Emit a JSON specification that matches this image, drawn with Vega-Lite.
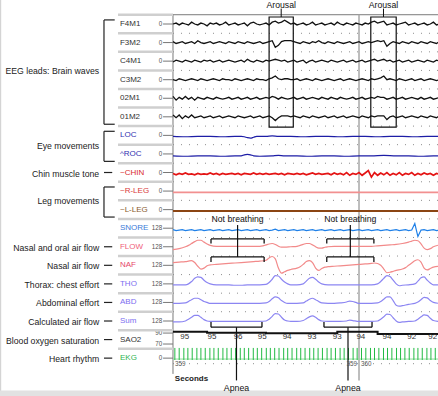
{
"$schema":"https://vega.github.io/schema/vega-lite/v6.json",
"width":438,"height":396,"padding":0,"autosize":{"type":"none"},"background":"white",
"config":{"font":"Liberation Sans","view":{"stroke":null}},
"datasets":{
"channels":[
{"k":"F4","n":"F4M1","lane":0,"g":"eeg","grp":"EEG leads: Brain waves","s":"0"},
{"k":"F3","n":"F3M2","lane":1,"g":"eeg","grp":"EEG leads: Brain waves","s":"0"},
{"k":"C4","n":"C4M1","lane":2,"g":"eeg","grp":"EEG leads: Brain waves","s":"0"},
{"k":"C3","n":"C3M2","lane":3,"g":"eeg","grp":"EEG leads: Brain waves","s":"0"},
{"k":"O2","n":"02M1","lane":4,"g":"eeg","grp":"EEG leads: Brain waves","s":"0"},
{"k":"O1","n":"01M2","lane":5,"g":"eeg","grp":"EEG leads: Brain waves","s":"0"},
{"k":"LO","n":"LOC","lane":6,"g":"eog","grp":"Eye movements","s":"0"},
{"k":"RO","n":"^ROC","lane":7,"g":"eog","grp":"Eye movements","s":"0"},
{"k":"CH","n":"~CHIN","lane":8,"g":"emg","grp":"Chin muscle tone","s":"0"},
{"k":"RL","n":"~R-LEG","lane":9,"g":"leg","grp":"Leg movements","s":"0"},
{"k":"LL","n":"~L-LEG","lane":10,"g":"leg","grp":"Leg movements","s":"0"},
{"k":"SN","n":"SNORE","lane":11,"g":"snore","grp":null,"s":"128"},
{"k":"FL","n":"FLOW","lane":12,"g":"resp","grp":"Nasal and oral air flow","s":"128"},
{"k":"NA","n":"NAF","lane":13,"g":"resp","grp":"Nasal air flow","s":"128"},
{"k":"TH","n":"THO","lane":14,"g":"resp","grp":"Thorax: chest effort","s":"128"},
{"k":"AB","n":"ABD","lane":15,"g":"resp","grp":"Abdominal effort","s":"128"},
{"k":"SU","n":"Sum","lane":16,"g":"resp","grp":"Calculated air flow","s":"128"},
{"k":"SA","n":"SAO2","lane":17,"g":"sao2","grp":"Blood oxygen saturation","s":null},
{"k":"EK","n":"EKG","lane":18,"g":"ekg","grp":"Heart rhythm","s":"0"}
],
"sig":[
{"t":0,"F4":0,"F3":1,"C4":-1,"C3":0,"O2":2,"O1":2,"CH":-1,"SN":-1.5,"LO":-1,"RO":-2,"RL":-1.5,"LL":-1.5,"FL":-3,"NA":3,"TH":-1,"AB":-1,"SU":-1,"SA":8.4},
{"t":0.5,"F4":1,"F3":-1,"C4":1,"C3":-1,"O2":-2,"O1":-1,"CH":-2.5,"SN":-2.5},
{"t":1,"F4":-1,"F3":0,"C4":0,"C3":1,"O2":1,"O1":2,"CH":-1,"SN":-2,"FL":-2,"NA":3.5,"TH":-1,"AB":-1,"SU":-1},
{"t":1.5,"F4":1,"F3":1,"C4":-1,"C3":0,"O2":-1,"O1":-2,"CH":-2,"SN":-1.5},
{"t":2,"F4":0,"F3":-1,"C4":1,"C3":-1,"O2":2,"O1":1,"CH":-0.5,"SN":-2.5,"LO":-1.5,"RO":-2.5,"FL":0,"NA":4,"TH":-1,"AB":-0.5,"SU":0},
{"t":2.5,"F4":-1,"F3":0,"C4":0,"C3":0,"O2":-1,"O1":-1,"CH":-2,"SN":-2,"FL":1.5,"NA":4.5,"TH":0,"AB":1,"SU":2},
{"t":3,"F4":2,"F3":1,"C4":-1,"C3":1,"O2":1,"O1":2,"CH":-1.5,"SN":-1.5,"FL":3.5,"NA":5,"TH":2.5,"AB":3,"SU":4},
{"t":3.5,"F4":0,"F3":-1,"C4":1,"C3":0,"O2":-2,"O1":-1,"CH":-2.5,"SN":-2.5,"FL":5.5,"NA":3,"TH":6,"AB":4.5,"SU":6},
{"t":4,"F4":-1,"F3":2,"C4":0,"C3":-1,"O2":1,"O1":0,"CH":-1,"SN":-2,"LO":-1,"RO":-2,"FL":7,"NA":-1,"TH":7.5,"AB":4.5,"SU":6},
{"t":4.5,"F4":1,"F3":0,"C4":-1,"C3":1,"O2":0,"O1":1,"CH":-2,"SN":-1.5,"FL":7,"NA":-4,"TH":7,"AB":3,"SU":4},
{"t":5,"F4":0,"F3":-1,"C4":1,"C3":0,"O2":-1,"O1":-1,"CH":-1.5,"SN":-2.5,"FL":5,"NA":-3,"TH":4,"AB":1,"SU":1.5},
{"t":5.5,"F4":-2,"F3":0,"C4":0,"C3":-1,"O2":1,"O1":0,"CH":-2,"SN":-2,"FL":3,"NA":-0.5,"TH":1.5,"AB":0,"SU":0,"SA":7.3},
{"t":6,"F4":1,"F3":1,"C4":1,"C3":0,"O2":0,"O1":1,"CH":-0.5,"SN":-1.5,"LO":-1,"RO":-2,"FL":1.5,"NA":0.5,"TH":0,"AB":-1,"SU":-0.5},
{"t":6.5,"F4":0,"F3":-1,"C4":-1,"C3":1,"O2":-1,"O1":-1,"CH":-2,"SN":-2.5},
{"t":7,"F4":1,"F3":0,"C4":0,"C3":0,"O2":1,"O1":0,"CH":-1,"SN":-2,"FL":0.5,"NA":1,"TH":-1,"AB":-1,"SU":-0.5},
{"t":7.5,"F4":-1,"F3":1,"C4":1,"C3":-1,"O2":0,"O1":1,"CH":-2.5,"SN":-1.5},
{"t":8,"F4":0,"F3":0,"C4":-1,"C3":1,"O2":-1,"O1":-1,"CH":-1,"SN":-2.5,"LO":-1.5,"RO":-2.5,"FL":0.5,"NA":1.5,"TH":-1,"AB":-1,"SU":-0.5},
{"t":8.5,"F4":2,"F3":-1,"C4":0,"C3":0,"O2":0,"O1":0,"CH":-2,"SN":-2},
{"t":9,"F4":-1,"F3":1,"C4":1,"C3":0,"O2":1,"O1":1,"CH":-1.5,"SN":-1.5,"FL":0.5,"NA":2,"TH":-1,"AB":-1,"SU":-0.5},
{"t":9.5,"F4":0,"F3":0,"C4":0,"C3":-1,"O2":-1,"O1":0,"CH":-1,"SN":-2.5},
{"t":10,"F4":1,"F3":-1,"C4":-1,"C3":1,"O2":0,"O1":-1,"CH":-2,"SN":-2,"LO":-1,"RO":-2,"FL":0.5,"NA":2.5,"TH":-1.5,"AB":-1,"SU":-0.5},
{"t":10.5,"F4":-1,"F3":1,"C4":0,"C3":0,"O2":1,"O1":1,"CH":-1,"SN":-1.5},
{"t":11,"F4":0,"F3":0,"C4":1,"C3":-1,"O2":-1,"O1":0,"CH":-2.5,"SN":-2.5,"LO":-1,"RO":-2,"FL":0.5,"NA":3,"TH":-1.5,"AB":-1,"SU":-0.5},
{"t":11.5,"F4":1,"F3":-1,"C4":-1,"C3":0,"O2":0,"O1":-1,"CH":-1,"SN":-2,"LO":-1.5,"RO":-1},
{"t":12,"F4":-2,"F3":1,"C4":2,"C3":1,"O2":1,"O1":0,"CH":-1.5,"SN":-1.5,"LO":-2.5,"RO":-0.5,"FL":0.5,"NA":3.5,"TH":-1,"AB":-1,"SU":-0.5},
{"t":12.5,"F4":1,"F3":0,"C4":0,"C3":0,"O2":-1,"O1":1,"CH":-2,"SN":-2.5,"LO":-3,"RO":-1},
{"t":13,"F4":2,"F3":-1,"C4":-1,"C3":-1,"O2":0,"O1":-1,"CH":-0.5,"SN":-2,"LO":-2,"RO":-2,"FL":0.5,"NA":4,"TH":-1,"AB":-1,"SU":-0.5},
{"t":13.5,"F4":0,"F3":0,"C4":1,"C3":1,"O2":1,"O1":0,"CH":-2,"SN":-1.5,"LO":-1},
{"t":14,"F4":-1,"F3":1,"C4":0,"C3":0,"O2":-1,"O1":1,"CH":-1,"SN":-2.5,"RO":-2.5,"FL":0.5,"NA":4.5,"TH":-1,"AB":-1,"SU":-0.5},
{"t":14.5,"F4":0,"F3":-1,"C4":-1,"C3":0,"O2":0,"O1":-1,"CH":-2,"SN":-2,"FL":1},
{"t":15,"F4":1,"F3":0,"C4":1,"C3":-1,"O2":1,"O1":0,"CH":-1,"SN":-1.5,"LO":-1,"FL":2,"NA":5.5,"TH":-0.5,"AB":-0.5,"SU":0,"SA":6.7},
{"t":15.5,"F4":-1,"F3":1,"C4":0,"C3":1,"O2":0,"O1":1,"CH":-2,"SN":-2.5,"FL":3,"NA":8,"TH":1.5,"AB":1,"SU":2},
{"t":16,"F4":2,"F3":2,"C4":1,"C3":2,"O2":2,"O1":-1,"CH":-1.5,"SN":-2,"LO":-0.5,"RO":-2,"FL":3.5,"NA":9.5,"TH":5,"AB":4,"SU":5},
{"t":16.5,"F4":3,"F3":-5,"C4":2,"C3":4,"O2":1,"O1":-4,"CH":-1,"SN":-1,"FL":2.5,"NA":7,"TH":9,"AB":6,"SU":8},
{"t":17,"F4":1,"F3":-3,"C4":1,"C3":1,"O2":-1,"O1":-1,"CH":-2,"SN":-2.5,"LO":-1,"RO":-1.5,"FL":0.5,"NA":-3,"TH":8.5,"AB":5,"SU":7.5},
{"t":17.5,"F4":2,"F3":1,"C4":0,"C3":0,"O2":1,"O1":1,"CH":-1,"SN":-2,"FL":-0.5,"NA":-8.5,"TH":5,"AB":2,"SU":4},
{"t":18,"F4":4,"F3":2,"C4":1,"C3":1,"O2":0,"O1":1,"CH":-2.5,"SN":-1.5,"RO":-2,"FL":-0.5,"NA":-7,"TH":2,"AB":0,"SU":1},
{"t":18.5,"F4":2,"F3":2,"C4":-1,"C3":1,"O2":-1,"O1":1,"CH":-1,"SN":-2.5,"NA":-5.5,"TH":0,"AB":-1,"SU":0},
{"t":19,"F4":0,"F3":2,"C4":0,"C3":0,"O2":0,"O1":0,"CH":-1.5,"SN":-2,"LO":-1,"FL":0,"NA":-4.5,"TH":-1,"AB":-1,"SU":-0.5},
{"t":19.5,"F4":1,"F3":1,"C4":1,"C3":0,"O2":1,"O1":1,"CH":-2,"SN":-1.5},
{"t":20,"F4":-1,"F3":0,"C4":-1,"C3":1,"O2":-1,"O1":0,"CH":-1,"SN":-2.5,"RO":-2,"FL":0.5,"NA":-3,"TH":-1,"AB":-1,"SU":-0.5},
{"t":20.5,"F4":0,"F3":-1,"C4":0,"C3":-1,"O2":0,"O1":-1,"CH":-2,"SN":-2,"FL":1.5,"NA":-1.5},
{"t":21,"F4":1,"F3":1,"C4":1,"C3":0,"O2":1,"O1":1,"CH":-1,"SN":-1.5,"LO":-1.5,"FL":2.5,"NA":1,"TH":0,"AB":-0.5,"SU":0.5},
{"t":21.5,"F4":-1,"F3":0,"C4":-2,"C3":1,"O2":-1,"O1":0,"CH":-2.5,"SN":-2.5,"FL":3.5,"NA":4,"TH":3,"AB":1.5,"SU":2.5},
{"t":22,"F4":0,"F3":-1,"C4":0,"C3":0,"O2":0,"O1":-1,"CH":-1.5,"SN":-2,"RO":-2.5,"FL":3.5,"NA":5,"TH":6,"AB":3.5,"SU":4.5},
{"t":22.5,"F4":2,"F3":1,"C4":1,"C3":-1,"O2":1,"O1":1,"CH":-0.5,"SN":-1.5,"FL":2,"NA":3,"TH":7,"AB":4.5,"SU":5.5},
{"t":23,"F4":-1,"F3":0,"C4":-1,"C3":1,"O2":0,"O1":0,"CH":-2,"SN":-2.5,"LO":-1,"FL":0,"NA":-3,"TH":5,"AB":3,"SU":4},
{"t":23.5,"F4":0,"F3":2,"C4":0,"C3":0,"O2":-1,"O1":-1,"CH":-1,"SN":-2,"FL":-1.5,"NA":-5.5,"TH":2,"AB":1,"SU":1.5},
{"t":24,"F4":1,"F3":0,"C4":1,"C3":-1,"O2":1,"O1":0,"CH":-2,"SN":-1.5,"RO":-2,"FL":-1.5,"NA":-3.5,"TH":0,"AB":-0.5,"SU":0},
{"t":24.5,"F4":-1,"F3":-1,"C4":0,"C3":0,"O2":0,"O1":1,"CH":-1.5,"SN":-2.5,"FL":-0.5,"NA":-2},
{"t":25,"F4":0,"F3":1,"C4":-1,"C3":1,"O2":-1,"O1":-1,"CH":-1,"SN":-2,"LO":-1,"FL":0,"NA":-1.5,"TH":-1,"AB":-1,"SU":-0.5},
{"t":25.5,"F4":1,"F3":0,"C4":1,"C3":0,"O2":1,"O1":0,"CH":-2.5,"SN":-1.5},
{"t":26,"F4":-1,"F3":-1,"C4":0,"C3":-1,"O2":0,"O1":1,"CH":-0.5,"SN":-2.5,"RO":-2,"FL":0.5,"NA":-1,"TH":-1,"AB":-1,"SU":-0.5},
{"t":26.5,"F4":2,"F3":1,"C4":-1,"C3":0,"O2":-1,"O1":-1,"CH":-2,"SN":-2,"SA":8.4},
{"t":27,"F4":0,"F3":0,"C4":0,"C3":1,"O2":1,"O1":0,"CH":-1,"SN":-1.5,"LO":-1.5,"FL":0.5,"NA":-0.5,"TH":-1,"AB":-0.5,"SU":-0.5},
{"t":27.5,"F4":-1,"F3":-1,"C4":1,"C3":-1,"O2":0,"O1":1,"CH":-2.5,"SN":-2.5},
{"t":28,"F4":1,"F3":0,"C4":-1,"C3":0,"O2":-1,"O1":-1,"CH":0,"SN":-2,"RO":-2.5,"FL":0.5,"NA":0,"TH":-1,"AB":0.5,"SU":0},
{"t":28.5,"F4":0,"F3":1,"C4":0,"C3":1,"O2":0,"O1":0,"CH":-3,"SN":-1.5,"AB":1.5,"SU":1},
{"t":29,"F4":-1,"F3":-1,"C4":1,"C3":0,"O2":1,"O1":1,"CH":-1,"SN":-2.5,"LO":-1,"FL":0.5,"NA":0.5,"TH":-1,"AB":1,"SU":0.5},
{"t":29.5,"F4":1,"F3":0,"C4":-1,"C3":-1,"O2":-1,"O1":0,"CH":-2,"SN":-2,"AB":0},
{"t":30,"F4":0,"F3":1,"C4":0,"C3":0,"O2":0,"O1":-1,"CH":0,"SN":-1.5,"RO":-2,"FL":0.5,"NA":1,"TH":-1,"AB":-1,"SU":-0.5},
{"t":30.5,"F4":-1,"F3":-1,"C4":1,"C3":1,"O2":1,"O1":1,"CH":-3,"SN":-2.5},
{"t":31,"F4":1,"F3":0,"C4":-1,"C3":0,"O2":-1,"O1":0,"CH":-0.5,"SN":-2,"LO":-1,"FL":0.5,"NA":1.5,"TH":-1,"AB":-1,"SU":-0.5},
{"t":31.5,"F4":0,"F3":1,"C4":0,"C3":-1,"O2":0,"O1":-1,"CH":2,"SN":-1.5},
{"t":32,"F4":2,"F3":0,"C4":1,"C3":1,"O2":1,"O1":1,"CH":-5,"SN":-2.5,"RO":-2,"FL":0.5,"NA":2,"TH":-1,"AB":-1,"SU":-0.5},
{"t":32.5,"F4":3,"F3":1,"C4":2,"C3":0,"O2":0,"O1":0,"CH":0,"SN":-2,"NA":2.5},
{"t":33,"F4":1,"F3":2,"C4":0,"C3":1,"O2":2,"O1":1,"CH":-3,"SN":-1.5,"LO":-1.5,"FL":1,"NA":2,"TH":0,"AB":-0.5,"SU":0,"SA":5.9},
{"t":33.5,"F4":2,"F3":1,"C4":1,"C3":2,"O2":1,"O1":1,"CH":-0.5,"SN":-2.5,"NA":0,"TH":2.5,"AB":1,"SU":2},
{"t":34,"F4":3,"F3":2,"C4":2,"C3":4,"O2":1,"O1":1,"CH":-2.5,"SN":-2,"RO":-1.5,"FL":1.5,"NA":-4,"TH":6,"AB":3.5,"SU":4.5},
{"t":34.5,"F4":-1,"F3":-4,"C4":0,"C3":0,"O2":-1,"O1":-3,"CH":0,"SN":-1.5,"NA":-8,"TH":9,"AB":6,"SU":7.5},
{"t":35,"F4":0,"F3":-1,"C4":1,"C3":1,"O2":0,"O1":0,"CH":-3,"SN":-2.5,"LO":-1,"FL":2,"NA":-7.5,"TH":8,"AB":6,"SU":7},
{"t":35.5,"F4":1,"F3":1,"C4":-1,"C3":0,"O2":1,"O1":1,"CH":-1,"SN":-2,"NA":-6.5,"TH":4,"AB":2,"SU":3.5},
{"t":36,"F4":-1,"F3":0,"C4":0,"C3":-1,"O2":-1,"O1":-1,"CH":-2.5,"SN":-1.5,"RO":-2,"FL":2.5,"NA":-5.5,"TH":0,"AB":-3,"SU":0},
{"t":36.5,"F4":0,"F3":-1,"C4":1,"C3":1,"O2":0,"O1":0,"CH":0,"SN":-2.5,"TH":-2,"AB":-4,"SU":-1.5},
{"t":37,"F4":1,"F3":1,"C4":-1,"C3":0,"O2":1,"O1":1,"CH":-3,"SN":-2,"LO":-1,"FL":3.5,"NA":-4,"TH":-1.5,"AB":-3.5,"SU":-1},
{"t":37.5,"F4":2,"F3":0,"C4":0,"C3":-1,"O2":-1,"O1":-1,"CH":-1,"SN":-1.5,"NA":-2.5},
{"t":38,"F4":-1,"F3":-1,"C4":1,"C3":0,"O2":0,"O1":0,"CH":-2,"SN":-2.5,"RO":-2,"FL":5,"NA":0,"TH":-1,"AB":-2,"SU":-0.5},
{"t":38.5,"F4":0,"F3":1,"C4":-1,"C3":1,"O2":1,"O1":1,"CH":0,"SN":-2,"FL":6,"NA":2.5},
{"t":39,"F4":1,"F3":0,"C4":0,"C3":-1,"O2":0,"O1":0,"CH":-3,"SN":5,"LO":-1.5,"FL":7,"NA":5,"TH":0,"AB":-1,"SU":0},
{"t":39.5,"F4":-1,"F3":-1,"C4":1,"C3":0,"O2":-1,"O1":-1,"CH":-1,"SN":-9,"FL":6.5,"NA":6,"TH":3,"AB":0.5,"SU":2},
{"t":40,"F4":0,"F3":1,"C4":0,"C3":1,"O2":1,"O1":1,"CH":-2.5,"SN":-2,"RO":-2.5,"FL":3,"NA":3.5,"TH":6.5,"AB":3,"SU":4.5},
{"t":40.5,"F4":1,"F3":0,"C4":-1,"C3":-1,"O2":-1,"O1":0,"CH":-0.5,"SN":-1.5,"FL":-1.5,"NA":-3,"TH":7.5,"AB":5.5,"SU":6.5},
{"t":41,"F4":-1,"F3":-1,"C4":1,"C3":0,"O2":0,"O1":-1,"CH":-2,"SN":-2.5,"LO":-1,"FL":-3,"NA":-5,"TH":4,"AB":5,"SU":6},
{"t":41.5,"F4":0,"F3":1,"C4":0,"C3":1,"O2":1,"O1":1,"CH":-1,"SN":-2,"FL":-2,"NA":-3.5,"TH":1,"AB":2,"SU":3},
{"t":42,"F4":2,"F3":0,"C4":-1,"C3":0,"O2":-1,"O1":0,"CH":-3,"SN":-1.5,"RO":-2,"FL":0,"NA":-2,"TH":-1,"AB":0,"SU":0.5},
{"t":42.5,"F4":-1,"F3":-1,"C4":1,"C3":-1,"O2":0,"O1":-1,"CH":-1,"SN":-2.5},
{"t":43,"F4":0,"F3":1,"C4":0,"C3":0,"O2":1,"O1":1,"CH":-2,"SN":-2,"LO":-1,"RO":-2,"RL":-1.5,"LL":-1.5,"FL":2,"NA":-1,"TH":-1,"AB":-1,"SU":-0.5,"SA":5.9}
],
"beats":[{"t":0.3},{"t":1.0},{"t":1.75},{"t":2.4},{"t":3.1},{"t":3.85},{"t":4.5},{"t":5.2},{"t":5.95},{"t":6.6},{"t":7.3},{"t":8.05},{"t":8.7},{"t":9.4},{"t":10.1},{"t":10.85},{"t":11.5},{"t":12.2},{"t":12.95},{"t":13.6},{"t":14.3},{"t":15.05},{"t":15.7},{"t":16.4},{"t":17.1},{"t":17.85},{"t":18.5},{"t":19.2},{"t":19.95},{"t":20.6},{"t":21.3},{"t":22.05},{"t":22.7},{"t":23.4},{"t":24.1},{"t":24.85},{"t":25.5},{"t":26.2},{"t":26.95},{"t":27.6},{"t":28.3},{"t":29.05},{"t":29.7},{"t":30.4},{"t":31.1},{"t":31.85},{"t":32.5},{"t":33.2},{"t":33.95},{"t":34.6},{"t":35.3},{"t":36.05},{"t":36.7},{"t":37.4},{"t":38.1},{"t":38.85},{"t":39.5},{"t":40.2},{"t":40.95},{"t":41.6},{"t":42.3}],
"events":[{"ev":"Arousal","t0":15.5,"t1":19.4},{"ev":"Arousal","t0":31.9,"t1":36.0},{"ev":"Not breathing","t0":6.13,"t1":14.7},{"ev":"Not breathing","t0":24.8,"t1":32.4},{"ev":"Apnea","t0":6.13,"t1":14.35},{"ev":"Apnea","t0":24.35,"t1":32.1}],
"spo2":[{"t":1.9,"pct":95},{"t":6.3,"pct":95},{"t":10.5,"pct":96},{"t":14.4,"pct":95},{"t":18.4,"pct":94},{"t":22.4,"pct":93},{"t":26.5,"pct":93},{"t":30.3,"pct":94},{"t":34.5,"pct":94},{"t":38.5,"pct":92},{"t":41.9,"pct":92}],
"epochs":[{"e":359,"t0":0,"t1":30},{"e":360,"t0":30,"t1":60}]
},
"layer":[
{"data":{"values":[{}]},"layer":[
 {"mark":{"type":"rule","stroke":"#d4d4d4","strokeWidth":2},"encoding":{"x":{"datum":-27.87,"type":"quantitative","scale":{"domain":[-27.9,42.74],"nice":false,"zero":false},"axis":null},"y":{"datum":-1.29,"type":"quantitative","scale":{"domain":[-1.293,20.04],"nice":false,"zero":false,"reverse":true},"axis":null},"y2":{"datum":20.04}}},
 {"mark":{"type":"rule","stroke":"#e2e2e2","strokeWidth":6},"encoding":{"x":{"datum":-27.9,"axis":null},"x2":{"datum":42.74},"y":{"datum":19.9,"axis":null}}},
 {"mark":{"type":"rule","stroke":"#8c8c8c","strokeDash":[1,7]},"encoding":{"x":{"datum":0,"axis":null},"x2":{"datum":43},"y":{"datum":18.3,"axis":null}}},
 {"mark":{"type":"rule","stroke":"#7a7a7a"},"encoding":{"x":{"datum":0,"axis":null},"x2":{"datum":43},"y":{"datum":-0.5,"axis":null}}},
 {"mark":{"type":"rule","stroke":"#7a7a7a"},"encoding":{"x":{"datum":0,"axis":null},"y":{"datum":-0.5,"axis":null},"y2":{"datum":18.85}}},
 {"mark":{"type":"rule","stroke":"#a8a8a8","strokeWidth":1.5},"encoding":{"x":{"datum":30,"axis":null},"y":{"datum":-0.5,"axis":null},"y2":{"datum":19.2}}},
 {"mark":{"type":"rule","stroke":"#8fdc9c","strokeWidth":1},"encoding":{"x":{"datum":0,"axis":null},"x2":{"datum":43},"y":{"datum":18.05,"axis":null}}},
 {"mark":{"type":"text","align":"left","baseline":"middle","fontSize":8,"fontWeight":"bold","color":"#222"},"encoding":{"x":{"datum":0.3,"axis":null},"y":{"datum":19.13,"axis":null},"text":{"value":"Seconds"}}},
 {"mark":{"type":"text","align":"right","baseline":"middle","fontSize":6.3,"color":"#555"},"encoding":{"x":{"datum":-1.75,"axis":null},"y":{"datum":16.65,"axis":null},"text":{"value":"90"}}},
 {"mark":{"type":"text","align":"right","baseline":"middle","fontSize":6.3,"color":"#555"},"encoding":{"x":{"datum":-1.75,"axis":null},"y":{"datum":17.24,"axis":null},"text":{"value":"70"}}},
 {"mark":{"type":"rule","stroke":"#777"},"encoding":{"x":{"datum":-1.6,"axis":null},"x2":{"datum":0},"y":{"datum":16.65,"axis":null}}},
 {"mark":{"type":"rule","stroke":"#777"},"encoding":{"x":{"datum":-1.6,"axis":null},"x2":{"datum":0},"y":{"datum":17.24,"axis":null}}}
]},
{"data":{"name":"channels"},"transform":[{"calculate":"datum.lane - 0.5","as":"sep"}],"mark":{"type":"rule","stroke":"#cfcfcf","strokeWidth":2.5},"encoding":{"x":{"datum":-8.87,"axis":null},"x2":{"datum":0},"y":{"field":"sep","type":"quantitative","axis":null}}},
{"data":{"name":"channels"},"transform":[{"filter":"datum.lane <= 15"},{"calculate":"datum.lane + 0.5","as":"mid"}],"mark":{"type":"rule","stroke":"#8c8c8c","strokeWidth":1,"strokeDash":[1,7]},"encoding":{"x":{"datum":0,"axis":null},"x2":{"datum":43},"y":{"field":"mid","type":"quantitative","axis":null}}},
{"data":{"name":"sig"},
 "transform":[{"fold":["F4","F3","C4","C3","O2","O1","LO","RO","CH","RL","LL","SN","FL","NA","TH","AB","SU","SA"],"as":["k","v"]},{"filter":"isValid(datum.v)"},{"lookup":"k","from":{"data":{"name":"channels"},"key":"k","fields":["n","lane","g"]}},{"calculate":"datum.lane - datum.v/20","as":"y"}],
 "encoding":{
  "x":{"field":"t","type":"quantitative","axis":{"orient":"bottom","offset":-26,"values":[5,10,15,20,25,30,35,40],"domain":false,"grid":false,"tickSize":3,"tickColor":"#555","labelExpr":"datum.value == 30 ? '30\"' : ''","labelFontSize":8.5,"labelColor":"#222","labelPadding":1,"title":null}},
  "y":{"field":"y","type":"quantitative","axis":{"orient":"left","offset":-173,"values":[-0.4,-0.2,0,0.2,0.4,0.6,0.8,1,1.2,1.4,1.6,1.8,2,2.2,2.4,2.6,2.8,3,3.2,3.4,3.6,3.8,4,4.2,4.4,4.6,4.8,5,5.2,5.4,5.6,5.8,6,6.2,6.4,6.6,6.8,7,7.2,7.4,7.6,7.8,8,8.2,8.4,8.6,8.8,9,9.2,9.4,9.6,9.8,10,10.2,10.4,10.6,10.8,11,11.2,11.4,11.6,11.8,12,12.2,12.4,12.6,12.8,13,13.2,13.4,13.6,13.8,14,14.2,14.4,14.6,14.8,15,15.2,15.4,15.6,15.8,16,16.2,16.4,16.6,16.8,17,17.2,17.4,17.6,17.8,18,18.2,18.4,18.6],"domain":false,"grid":false,"labels":false,"tickSize":4,"tickColor":"#9a9a9a","title":null}},
  "stroke":{"field":"n","type":"nominal","scale":{"domain":["F4M1","F3M2","C4M1","C3M2","02M1","01M2","LOC","^ROC","~CHIN","~R-LEG","~L-LEG","SNORE","FLOW","NAF","THO","ABD","Sum","SAO2","EKG"],"range":["#111111","#111111","#111111","#111111","#111111","#111111","#1d1da6","#1d1da6","#e41414","#f29090","#8b4513","#1f80e8","#f28a8a","#f28a8a","#8c86f2","#8c86f2","#8c86f2","#111111","#22bb44"]},"legend":null}
 },
 "layer":[
  {"transform":[{"filter":"datum.g == 'eeg'"}],"mark":{"type":"line","strokeWidth":1.3}},
  {"transform":[{"filter":"datum.g == 'eog'"}],"mark":{"type":"line","strokeWidth":1.2,"interpolate":"monotone"}},
  {"transform":[{"filter":"datum.g == 'emg'"}],"mark":{"type":"line","strokeWidth":1.7}},
  {"transform":[{"filter":"datum.g == 'leg'"}],"mark":{"type":"line","strokeWidth":1.8}},
  {"transform":[{"filter":"datum.g == 'snore'"}],"mark":{"type":"line","strokeWidth":1.2}},
  {"transform":[{"filter":"datum.g == 'resp'"}],"mark":{"type":"line","strokeWidth":1.2,"interpolate":"monotone"}},
  {"transform":[{"filter":"datum.g == 'sao2'"}],"mark":{"type":"line","strokeWidth":2,"interpolate":"step-after"}}
 ]},
{"data":{"name":"beats"},"mark":{"type":"rule","stroke":"#22bb44","strokeWidth":1},"encoding":{"x":{"field":"t","type":"quantitative","axis":null},"y":{"datum":18.1,"axis":null},"y2":{"datum":17.45}}},
{"data":{"name":"channels"},"layer":[
 {"mark":{"type":"text","align":"left","baseline":"middle","fontSize":8},"encoding":{"x":{"datum":-8.55,"axis":null},"y":{"field":"lane","type":"quantitative","axis":null},"text":{"field":"n"},"color":{"field":"n","type":"nominal","scale":{"domain":["F4M1","F3M2","C4M1","C3M2","02M1","01M2","LOC","^ROC","~CHIN","~R-LEG","~L-LEG","SNORE","FLOW","NAF","THO","ABD","Sum","SAO2","EKG"],"range":["#333333","#333333","#333333","#333333","#333333","#333333","#2f2fb0","#2f2fb0","#d92b2b","#d93a3a","#8a5a2e","#3b7ad8","#f0607a","#e5486a","#7c6ef0","#7c6ef0","#7c6ef0","#333333","#2fb552"]},"legend":null}}},
 {"transform":[{"filter":"isValid(datum.s)"}],"mark":{"type":"text","align":"right","baseline":"middle","fontSize":6.3,"color":"#555"},"encoding":{"x":{"datum":-1.75,"axis":null},"y":{"field":"lane","type":"quantitative","axis":null},"text":{"field":"s"}}},
 {"transform":[{"filter":"isValid(datum.s)"}],"mark":{"type":"rule","stroke":"#777","strokeWidth":1},"encoding":{"x":{"datum":-1.6,"axis":null},"x2":{"datum":0},"y":{"field":"lane","type":"quantitative","axis":null}}}
]},
{"data":{"name":"channels"},"transform":[{"filter":"isValid(datum.grp)"},{"aggregate":[{"op":"min","field":"lane","as":"l0"},{"op":"max","field":"lane","as":"l1"}],"groupby":["grp"]},{"calculate":"(datum.l0 + datum.l1)/2","as":"m"},{"calculate":"datum.l0 - 0.22","as":"top"},{"calculate":"datum.l1 + 0.4","as":"bot"}],
 "layer":[
 {"mark":{"type":"text","align":"right","baseline":"middle","fontSize":8.7,"color":"#222","dy":1},"encoding":{"x":{"datum":-11.9,"axis":null},"y":{"field":"m","type":"quantitative","axis":null},"text":{"field":"grp"}}},
 {"transform":[{"filter":"datum.l1 > datum.l0"}],"mark":{"type":"rule","stroke":"#222","strokeWidth":1.2},"encoding":{"x":{"datum":-11.13,"axis":null},"y":{"field":"top","type":"quantitative","axis":null},"y2":{"field":"bot"}}},
 {"transform":[{"filter":"datum.l1 > datum.l0"},{"fold":["top","bot"],"as":["end","ly"]}],"mark":{"type":"rule","stroke":"#222","strokeWidth":1.2},"encoding":{"x":{"datum":-11.13,"axis":null},"x2":{"datum":-9.4},"y":{"field":"ly","type":"quantitative","axis":null}}},
 {"transform":[{"filter":"datum.l1 == datum.l0"}],"mark":{"type":"rule","stroke":"#222","strokeWidth":1.2},"encoding":{"x":{"datum":-11.13,"axis":null},"x2":{"datum":-9.8},"y":{"field":"l0","type":"quantitative","axis":null}}}
]},
{"data":{"name":"events"},"transform":[{"calculate":"(datum.t0 + datum.t1)/2","as":"tm"}],"layer":[
 {"transform":[{"filter":"datum.ev == 'Arousal'"}],"mark":{"type":"rect","fillOpacity":0,"stroke":"#111","strokeWidth":1.2},"encoding":{"x":{"field":"t0","type":"quantitative","axis":null},"x2":{"field":"t1"},"y":{"datum":-0.377,"axis":null},"y2":{"datum":5.55}}},
 {"transform":[{"filter":"datum.ev == 'Arousal'"}],"mark":{"type":"rule","stroke":"#111"},"encoding":{"x":{"field":"tm","type":"quantitative","axis":null},"y":{"datum":-0.83,"axis":null},"y2":{"datum":-0.377}}},
 {"transform":[{"filter":"datum.ev == 'Arousal'"}],"mark":{"type":"text","fontSize":8.7,"color":"#111","baseline":"middle"},"encoding":{"x":{"field":"tm","type":"quantitative","axis":null},"y":{"datum":-1.05,"axis":null},"text":{"field":"ev"}}},
 {"transform":[{"filter":"datum.ev == 'Not breathing'"}],"mark":{"type":"rule","stroke":"#111","strokeWidth":1.3},"encoding":{"x":{"field":"t0","type":"quantitative","axis":null},"x2":{"field":"t1"},"y":{"datum":11.58,"axis":null}}},
 {"transform":[{"filter":"datum.ev == 'Not breathing'"}],"mark":{"type":"rule","stroke":"#111","strokeWidth":1.3},"encoding":{"x":{"field":"t0","type":"quantitative","axis":null},"x2":{"field":"t1"},"y":{"datum":12.55,"axis":null}}},
 {"transform":[{"filter":"datum.ev == 'Not breathing'"},{"fold":["t0","t1"],"as":["end","te"]}],"mark":{"type":"rule","stroke":"#111","strokeWidth":1.3},"encoding":{"x":{"field":"te","type":"quantitative","axis":null},"y":{"datum":11.58,"axis":null},"y2":{"datum":11.82}}},
 {"transform":[{"filter":"datum.ev == 'Not breathing'"},{"fold":["t0","t1"],"as":["end","te"]}],"mark":{"type":"rule","stroke":"#111","strokeWidth":1.3},"encoding":{"x":{"field":"te","type":"quantitative","axis":null},"y":{"datum":12.55,"axis":null},"y2":{"datum":12.82}}},
 {"transform":[{"filter":"datum.ev == 'Not breathing'"}],"mark":{"type":"rule","stroke":"#111","strokeWidth":1.2},"encoding":{"x":{"field":"tm","type":"quantitative","axis":null},"y":{"datum":10.83,"axis":null},"y2":{"datum":12.55}}},
 {"transform":[{"filter":"datum.ev == 'Not breathing'"}],"mark":{"type":"text","fontSize":8.7,"color":"#111","baseline":"middle"},"encoding":{"x":{"field":"tm","type":"quantitative","axis":null},"y":{"datum":10.5,"axis":null},"text":{"field":"ev"}}},
 {"transform":[{"filter":"datum.ev == 'Apnea'"}],"mark":{"type":"rule","stroke":"#111","strokeWidth":1.3},"encoding":{"x":{"field":"t0","type":"quantitative","axis":null},"x2":{"field":"t1"},"y":{"datum":16.33,"axis":null}}},
 {"transform":[{"filter":"datum.ev == 'Apnea'"},{"fold":["t0","t1"],"as":["end","te"]}],"mark":{"type":"rule","stroke":"#111","strokeWidth":1.3},"encoding":{"x":{"field":"te","type":"quantitative","axis":null},"y":{"datum":16.06,"axis":null},"y2":{"datum":16.33}}},
 {"transform":[{"filter":"datum.ev == 'Apnea'"}],"mark":{"type":"rule","stroke":"#111","strokeWidth":1.2},"encoding":{"x":{"field":"tm","type":"quantitative","axis":null},"y":{"datum":16.33,"axis":null},"y2":{"datum":19.2}}},
 {"transform":[{"filter":"datum.ev == 'Apnea'"}],"mark":{"type":"text","fontSize":8.8,"color":"#111","baseline":"middle"},"encoding":{"x":{"field":"tm","type":"quantitative","axis":null},"y":{"datum":19.59,"axis":null},"text":{"field":"ev"}}}
]},
{"data":{"name":"spo2"},"mark":{"type":"text","fontSize":8,"color":"#333","baseline":"middle"},"encoding":{"x":{"field":"t","type":"quantitative","axis":null},"y":{"datum":16.87,"axis":null},"text":{"field":"pct"}}},
{"data":{"name":"epochs"},"layer":[
 {"mark":{"type":"text","align":"left","dx":2,"fontSize":6.3,"color":"#555","baseline":"middle"},"encoding":{"x":{"field":"t0","type":"quantitative","axis":null},"y":{"datum":18.33,"axis":null},"text":{"field":"e"}}},
 {"transform":[{"filter":"datum.t1 < 42"}],"mark":{"type":"text","align":"right","dx":-2,"fontSize":6.3,"color":"#555","baseline":"middle"},"encoding":{"x":{"field":"t1","type":"quantitative","axis":null},"y":{"datum":18.33,"axis":null},"text":{"field":"e"}}}
]}
]
}
